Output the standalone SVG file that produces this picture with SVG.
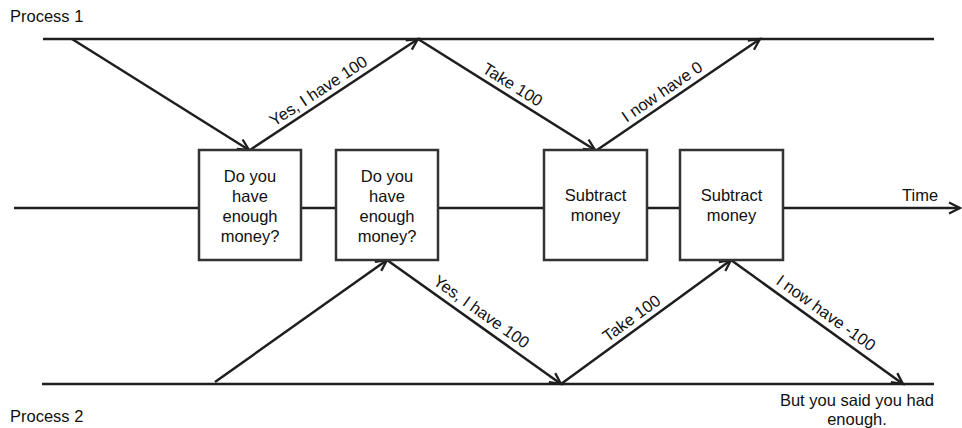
<svg xmlns="http://www.w3.org/2000/svg" width="962" height="428" viewBox="0 0 962 428">
  <style>
    .axis { stroke: #1e1e1e; stroke-width: 2.5; fill: none; }
    .msg { stroke: #1e1e1e; stroke-width: 2.5; fill: none; marker-end: url(#head); }
    .box { fill: #ffffff; stroke: #333333; stroke-width: 2.5; }
    text { font-family: "Liberation Sans", Arial, sans-serif; font-size: 16.5px; fill: #111111; }
    .c { text-anchor: middle; }
  </style>
  <defs>
    <marker id="head" markerUnits="userSpaceOnUse" markerWidth="16" markerHeight="16" viewBox="-13 -8 16 16" refX="0" refY="0" orient="auto">
      <path d="M-11,-5.5 L0,0 L-11,5.5" fill="none" stroke="#1e1e1e" stroke-width="2.3"/>
    </marker>
  </defs>
  <rect width="962" height="428" fill="#ffffff"/>

  <!-- timelines -->
  <g id="timelines">
    <line class="axis" x1="43" y1="39" x2="934" y2="39"/>
    <line class="axis" x1="42" y1="384" x2="934" y2="384"/>
    <line class="msg" x1="14" y1="208" x2="960" y2="208"/>
    <text x="10" y="22">Process 1</text>
    <text x="10" y="422">Process 2</text>
    <text x="902" y="201">Time</text>
  </g>

  <!-- connectors -->
  <g id="connectors">
    <line class="msg" x1="72" y1="39" x2="249" y2="150"/>
    <line class="msg" x1="250" y1="150" x2="418" y2="39"/>
    <line class="msg" x1="418" y1="39" x2="595" y2="150"/>
    <line class="msg" x1="597" y1="150" x2="760" y2="39"/>
    <line class="msg" x1="215" y1="382" x2="387" y2="260"/>
    <line class="msg" x1="387" y1="260" x2="561" y2="384"/>
    <line class="msg" x1="561" y1="384" x2="731" y2="260"/>
    <line class="msg" x1="731" y1="260" x2="903" y2="384"/>

    <text class="c" transform="translate(334,94.5) rotate(-33.5)" x="-11" y="-6">Yes, I have 100</text>
    <text class="c" transform="translate(506.5,94.5) rotate(32)" x="0" y="-6">Take 100</text>
    <text class="c" transform="translate(678.5,94.5) rotate(-34.3)" x="-12" y="-6">I now have 0</text>
    <text class="c" transform="translate(474,322) rotate(35.5)" x="0" y="-7">Yes, I have 100</text>
    <text class="c" transform="translate(646,322) rotate(-36.1)" x="-9.5" y="-6">Take 100</text>
    <text class="c" transform="translate(817,322) rotate(35.8)" x="2" y="-7">I now have -100</text>
  </g>

  <g id="check1">
    <rect class="box" x="199" y="150" width="102" height="110"/>
    <text class="c" x="250" y="182">Do you</text>
    <text class="c" x="250" y="202">have</text>
    <text class="c" x="250" y="222">enough</text>
    <text class="c" x="250" y="242">money?</text>
  </g>
  <g id="check2">
    <rect class="box" x="336" y="150" width="102" height="110"/>
    <text class="c" x="387" y="182">Do you</text>
    <text class="c" x="387" y="202">have</text>
    <text class="c" x="387" y="222">enough</text>
    <text class="c" x="387" y="242">money?</text>
  </g>
  <g id="subtract1">
    <rect class="box" x="544" y="150" width="103" height="110"/>
    <text class="c" x="595.5" y="201">Subtract</text>
    <text class="c" x="595.5" y="221">money</text>
  </g>
  <g id="subtract2">
    <rect class="box" x="680" y="150" width="103" height="110"/>
    <text class="c" x="731.5" y="201">Subtract</text>
    <text class="c" x="731.5" y="221">money</text>
  </g>

  <g id="note">
    <text class="c" x="857" y="406">But you said you had</text>
    <text class="c" x="857" y="425">enough.</text>
  </g>
</svg>
